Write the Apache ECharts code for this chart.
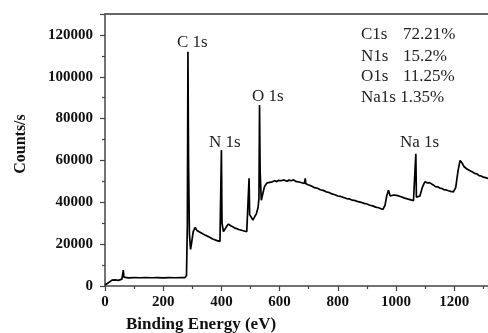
<!DOCTYPE html>
<html>
<head>
<meta charset="utf-8">
<script src="https://cdn.jsdelivr.net/npm/echarts@6/dist/echarts.min.js"></script>
<style>html,body{margin:0;padding:0;background:#fff}#c{width:488px;height:333px}</style>
</head>
<body>
<div id="c"></div>
<script>
var energy = [0,8,17,24,29,34,40,46,52,58,62,63,65,69,80,100,120,140,160,180,200,220,240,260,275,280,283,285,287,290,294,298,303,310,316,325,340,355,370,385,395,398,400,402,407,412,418,424,432,445,460,475,487,492,495,497,502,508,514,520,526,529,531,533,537,542,548,556,565,575,583,590,597,605,615,625,632,640,648,655,670,685,688,690,698,705,712,720,730,740,750,760,770,780,790,800,810,820,830,840,850,860,870,880,890,900,910,920,930,940,955,962,968,974,980,985,992,1002,1015,1030,1045,1060,1066,1068,1070,1075,1082,1090,1099,1108,1115,1120,1128,1135,1143,1150,1158,1165,1172,1180,1188,1197,1205,1213,1220,1226,1234,1240,1245,1250,1256,1263,1270,1278,1285,1292,1300,1308,1316];
var counts = [600,1200,2100,2800,3700,2900,2500,2700,3100,3300,3900,7600,4200,3950,3900,4000,3950,4050,3950,4000,3900,4000,3950,4000,4000,5000,30000,112000,60000,25000,17500,21000,26000,28000,26500,25800,24600,23600,22500,21700,21300,22000,65000,30000,26000,26500,28500,29600,28800,27800,27000,26400,25900,26500,51500,34000,33000,31500,33000,34500,37500,42000,86500,55000,41000,44000,47500,49200,49500,49800,50300,49900,50500,50300,50700,50100,50600,50300,50700,50000,49600,49000,51400,48900,48400,48000,47600,47000,46700,46000,45700,45000,44700,44000,43600,43000,42800,42300,41800,41600,41000,40800,40300,40000,39500,39200,38600,38300,37700,37400,36600,38500,43000,45800,43000,42200,43500,43300,42800,42000,41400,40800,41200,63200,42500,41800,43000,47000,49800,49300,49400,48500,48300,47500,47400,46800,46600,46000,45900,45500,45200,45000,47000,55000,60000,59000,57000,56600,55800,55900,55000,54500,53800,53600,52700,52600,52000,51800,51400];
var xTicks = [0, 1316, 200];
var yTicks = [0, 130000, 20000];
var peakLabels = ["C 1s", "N 1s", "O 1s", "Na 1s"];
var compNames = ["C1s", "N1s", "O1s"];
var compValues = ["72.21%", "15.2%", "11.25%"];
var compLast = "Na1s 1.35%";
var xName = "Binding Energy (eV)";
var yName = "Counts/s";

var serif = "'Liberation Serif','Times New Roman',serif";
var axisCol = '#444';
var data = energy.map(function(e, i){ return [e, counts[i]]; });

var chart = echarts.init(document.getElementById('c'));
var peakPos = [[177,43],[209,143],[252,97],[400,143]];
var graphics = [];
peakLabels.forEach(function(t, i){
  graphics.push({type:'text', left: peakPos[i][0], top: peakPos[i][1]-9,
    style:{text:t, font:'17px ' + serif, fill:'#222'}});
});
var rowY = [35, 57, 77, 98];
compNames.forEach(function(t, i){
  graphics.push({type:'text', left:361, top: rowY[i]-9, style:{text:t, font:'17px ' + serif, fill:'#222'}});
  graphics.push({type:'text', left:403, top: rowY[i]-9, style:{text:compValues[i], font:'17px ' + serif, fill:'#222'}});
});
graphics.push({type:'text', left:361, top: rowY[3]-9, style:{text:compLast, font:'17px ' + serif, fill:'#222'}});
graphics.push({type:'text', x:201, y:325, style:{text:xName, font:'bold 17px ' + serif, fill:'#111', align:'center', verticalAlign:'middle'}});
graphics.push({type:'text', x:21, y:144, rotation:Math.PI/2, style:{text:yName, font:'bold 16px ' + serif, fill:'#111', align:'center', verticalAlign:'middle'}});

function plain(v){ return String(v); }

chart.setOption({
  animation:false,
  backgroundColor:'#fff',
  grid:{left:105, top:14, right:0, bottom:47, containLabel:false},
  xAxis:[{
    type:'value', min:xTicks[0], max:xTicks[1], interval:xTicks[2],
    axisLine:{show:true, onZero:false, lineStyle:{color:axisCol, width:1.5}},
    axisTick:{show:true, length:5, lineStyle:{color:axisCol, width:1.2}},
    minorTick:{show:true, splitNumber:2, length:3, lineStyle:{color:axisCol, width:1.2}},
    splitLine:{show:false},
    axisLabel:{margin:9, formatter:plain, fontFamily:serif, fontWeight:'bold', fontSize:15, color:'#111', showMaxLabel:false}
  },{
    type:'value', position:'top', min:xTicks[0], max:xTicks[1],
    axisLine:{show:true, onZero:false, lineStyle:{color:'#666', width:1.8}},
    axisTick:{show:false}, axisLabel:{show:false}, splitLine:{show:false}
  }],
  yAxis:{
    type:'value', min:yTicks[0], max:yTicks[1], interval:yTicks[2],
    axisLine:{show:true, onZero:false, lineStyle:{color:axisCol, width:1.5}},
    axisTick:{show:true, length:5, lineStyle:{color:axisCol, width:1.2}},
    minorTick:{show:true, splitNumber:2, length:3, lineStyle:{color:axisCol, width:1.2}},
    splitLine:{show:false},
    axisLabel:{margin:12, formatter:plain, fontFamily:serif, fontWeight:'bold', fontSize:15, color:'#111', showMaxLabel:false}
  },
  series:[{
    type:'line', data:data, xAxisIndex:0, showSymbol:false, symbol:'none',
    lineStyle:{color:'#000', width:1.7}, clip:true
  }],
  graphic:graphics
});
</script>
</body>
</html>
